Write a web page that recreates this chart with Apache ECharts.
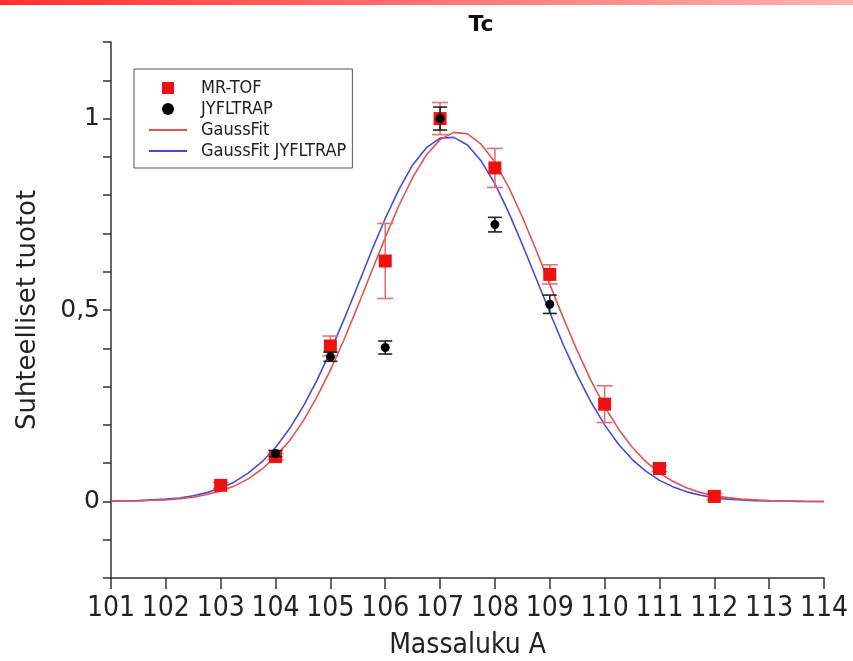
<!DOCTYPE html>
<html>
<head>
<meta charset="utf-8">
<script src="https://cdn.jsdelivr.net/npm/echarts@6/dist/echarts.min.js"></script>
<style>
html,body{margin:0;padding:0;background:#fff;}
#chart{width:853px;height:661px;}
</style>
</head>
<body>
<div id="chart"></div>
<script>
// ---- data ----
const titleText = 'Tc';
const xName = 'Massaluku A';
const yName = 'Suhteelliset tuotot';
const yTickValues = [0, 0.5, 1];
const yTickLabels = ['0', '0,5', '1'];

const mrtofX   = [103, 104, 105, 106, 107, 108, 109, 110, 111, 112];
const mrtofY   = [0.042, 0.117, 0.406, 0.628, 1.0, 0.871, 0.593, 0.254, 0.086, 0.013];
const mrtofErr = [0.008, 0.008, 0.026, 0.098, 0.042, 0.051, 0.025, 0.048, 0.008, 0.008];

const jyflX   = [104, 105, 106, 107, 108, 109];
const jyflY   = [0.125, 0.378, 0.402, 1.0, 0.723, 0.515];
const jyflErr = [0.008, 0.012, 0.017, 0.030, 0.019, 0.024];

const fitX = [101, 101.25, 101.5, 101.75, 102, 102.25, 102.5, 102.75, 103, 103.25, 103.5, 103.75,
              104, 104.25, 104.5, 104.75, 105, 105.25, 105.5, 105.75, 106, 106.25, 106.5, 106.75,
              107, 107.25, 107.5, 107.75, 108, 108.25, 108.5, 108.75, 109, 109.25, 109.5, 109.75,
              110, 110.25, 110.5, 110.75, 111, 111.25, 111.5, 111.75, 112, 112.25, 112.5, 112.75,
              113, 113.25, 113.5, 113.75, 114];
const gaussFitY = [0.000, 0.001, 0.001, 0.003, 0.004, 0.007, 0.011, 0.018, 0.027, 0.040, 0.059, 0.084,
                   0.117, 0.158, 0.209, 0.272, 0.343, 0.423, 0.510, 0.600, 0.689, 0.773, 0.846, 0.905,
                   0.945, 0.964, 0.960, 0.933, 0.886, 0.821, 0.743, 0.657, 0.567, 0.478, 0.394, 0.316,
                   0.248, 0.190, 0.142, 0.104, 0.074, 0.052, 0.035, 0.023, 0.015, 0.010, 0.006, 0.004,
                   0.002, 0.001, 0.001, 0.000, 0.000];
const gaussJyflY = [0.001, 0.001, 0.002, 0.004, 0.006, 0.009, 0.015, 0.023, 0.035, 0.051, 0.074, 0.103,
                    0.141, 0.189, 0.247, 0.315, 0.392, 0.476, 0.564, 0.654, 0.739, 0.815, 0.879, 0.924,
                    0.949, 0.951, 0.931, 0.889, 0.830, 0.755, 0.671, 0.583, 0.494, 0.408, 0.330, 0.260,
                    0.200, 0.150, 0.110, 0.079, 0.055, 0.038, 0.025, 0.016, 0.010, 0.006, 0.004, 0.002,
                    0.001, 0.001, 0.000, 0.000, 0.000];

// ---- build ----
const pairs = (xs, ys) => xs.map((x, i) => [x, ys[i]]);
const errs = (xs, ys, es) => xs.map((x, i) => [x, ys[i] - es[i], ys[i] + es[i]]);

function errorBar(color, capHalf, lw) {
  return function (params, api) {
    const x = api.value(0);
    const lo = api.coord([x, api.value(1)]);
    const hi = api.coord([x, api.value(2)]);
    const style = { stroke: color, lineWidth: lw, fill: null };
    return {
      type: 'group',
      children: [
        { type: 'line', shape: { x1: lo[0], y1: lo[1], x2: hi[0], y2: hi[1] }, style: style },
        { type: 'line', shape: { x1: lo[0] - capHalf, y1: lo[1], x2: lo[0] + capHalf, y2: lo[1] }, style: style },
        { type: 'line', shape: { x1: hi[0] - capHalf, y1: hi[1], x2: hi[0] + capHalf, y2: hi[1] }, style: style }
      ]
    };
  };
}

const chart = echarts.init(document.getElementById('chart'), null, { renderer: 'canvas' });
const axisColor = '#333';
chart.setOption({
  animation: false,
  backgroundColor: '#fff',
  graphic: [{
    type: 'rect', left: 0, top: 0, z: 100,
    shape: { width: 853, height: 5 },
    style: {
      fill: new echarts.graphic.LinearGradient(0, 0, 1, 0, [
        { offset: 0, color: '#ff3030' },
        { offset: 1, color: '#ffb4b4' }
      ])
    }
  }],
  title: {
    text: titleText,
    left: 476, top: 9, textAlign: 'center',
    textStyle: { fontFamily: 'DejaVu Sans', fontWeight: 'bold', fontSize: 22, color: '#111' }
  },
  legend: {
    orient: 'vertical',
    left: 134, top: 69,
    padding: [10, 6, 8, 14],
    itemGap: 3,
    itemWidth: 38, itemHeight: 12,
    borderColor: '#555', borderWidth: 1,
    symbolKeepAspect: true,
    textStyle: { fontFamily: 'DejaVu Sans Condensed', fontSize: 18, color: '#222', lineHeight: 17, padding: [0, 0, 0, 9] },
    data: [
      { name: 'MR-TOF', icon: 'path://M0,0 L12,0 L12,12 L0,12 Z' },
      { name: 'JYFLTRAP', icon: 'circle' },
      { name: 'GaussFit', itemStyle: { opacity: 0 } },
      { name: 'GaussFit JYFLTRAP', itemStyle: { opacity: 0 } }
    ]
  },
  grid: { left: 111, right: 29, top: 42, bottom: 83, outerBoundsMode: 'none', containLabel: false },
  xAxis: {
    type: 'value', min: 101, max: 114, interval: 1,
    name: xName, nameLocation: 'middle', nameGap: 54,
    nameTextStyle: { fontFamily: 'DejaVu Sans Condensed', fontSize: 28, color: '#222' },
    axisLine: { onZero: false, lineStyle: { color: axisColor, width: 1.5 } },
    axisTick: { show: true, length: 11, lineStyle: { color: axisColor, width: 1.5 } },
    axisLabel: { margin: 17, fontFamily: 'DejaVu Sans Condensed', fontSize: 28, color: '#222' },
    splitLine: { show: false }
  },
  yAxis: {
    type: 'value', min: -0.2, max: 1.2, interval: 0.1,
    name: yName, nameLocation: 'middle', nameGap: 70,
    nameTextStyle: { fontFamily: 'DejaVu Sans', fontSize: 26, color: '#222' },
    axisLine: { show: true, onZero: false, lineStyle: { color: axisColor, width: 1.5 } },
    axisTick: { show: true, length: 8, lineStyle: { color: axisColor, width: 1.5 } },
    axisLabel: {
      margin: 11, fontFamily: 'DejaVu Sans', fontSize: 25, color: '#222',
      formatter: function (v) {
        for (let i = 0; i < yTickValues.length; i++) {
          if (Math.abs(v - yTickValues[i]) < 1e-6) return yTickLabels[i];
        }
        return '';
      }
    },
    splitLine: { show: false }
  },
  series: [
    {
      name: 'GaussFit JYFLTRAP', type: 'line', data: pairs(fitX, gaussJyflY),
      smooth: false, symbol: 'none', showSymbol: false, z: 2,
      lineStyle: { color: '#4a4ad8', width: 1.6 }, itemStyle: { color: '#4a4ad8' }
    },
    {
      name: 'GaussFit', type: 'line', data: pairs(fitX, gaussFitY),
      smooth: false, symbol: 'none', showSymbol: false, z: 3,
      lineStyle: { color: '#e05555', width: 1.6 }, itemStyle: { color: '#e05555' }
    },
    {
      name: 'MR-TOF err', type: 'custom', data: errs(mrtofX, mrtofY, mrtofErr), z: 4,
      renderItem: errorBar('#e87070', 8, 1.6), encode: { x: 0, y: [1, 2] }
    },
    {
      name: 'MR-TOF', type: 'scatter', data: pairs(mrtofX, mrtofY), z: 5,
      symbol: 'rect', symbolSize: 13, itemStyle: { color: '#ee1111', opacity: 1 }
    },
    {
      name: 'JYFLTRAP err', type: 'custom', data: errs(jyflX, jyflY, jyflErr), z: 6,
      renderItem: errorBar('#222', 7, 1.6), encode: { x: 0, y: [1, 2] }
    },
    {
      name: 'JYFLTRAP', type: 'scatter', data: pairs(jyflX, jyflY), z: 7,
      symbol: 'circle', symbolSize: 9, itemStyle: { color: '#000', opacity: 1 }
    }
  ]
});
</script>
</body>
</html>
